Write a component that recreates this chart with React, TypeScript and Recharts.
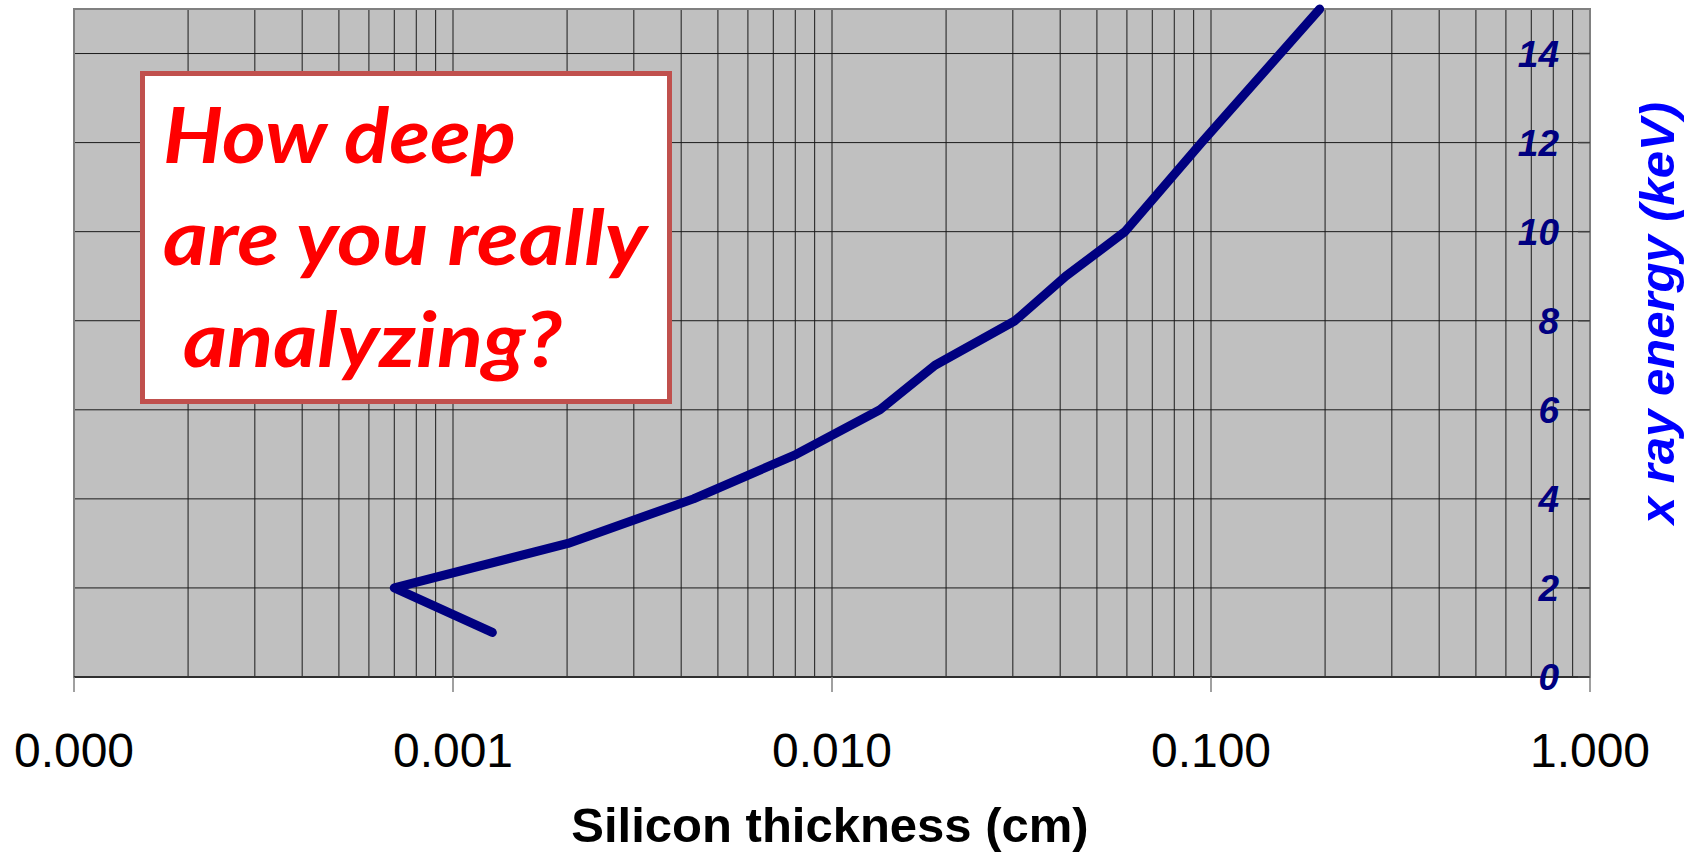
import React from 'react';
import { LineChart, Line, XAxis, YAxis, CartesianGrid, ReferenceArea, Label } from 'recharts';

// X-ray energy (keV) vs silicon thickness (cm)
const energyKeV = [1, 2, 3, 4, 5, 6, 7, 8, 9, 10, 12, 15];
const thicknessCm = [0.00127, 0.0007, 0.00201, 0.00431, 0.00805, 0.01338, 0.0187, 0.0304, 0.0414, 0.0593, 0.0944, 0.1936];

const majorTicks = [0.0001, 0.001, 0.01, 0.1, 1];
const multipliers = [1, 2, 3, 4, 5, 6, 7, 8, 9];
const yTicks = [0, 2, 4, 6, 8, 10, 12, 14];
const annotationLines = ['How deep', 'are you really', 'analyzing?'];

const data = energyKeV.map((e, i) => ({ thickness: thicknessCm[i], energy: e }));
const allXTicks: number[] = [];
majorTicks.slice(0, -1).forEach((d) => multipliers.forEach((m) => allXTicks.push(+(d * m).toPrecision(3))));
allXTicks.push(1);

const FONT = '"Liberation Sans", Arial, sans-serif';
const isMajor = (v: number) => majorTicks.some((m) => Math.abs(m - v) / m < 1e-6);

const XTick = (p: any) => {
  const v = p.payload.value;
  if (!isMajor(v)) return <g />;
  return (
    <g>
      <line x1={p.x} x2={p.x} y1={p.y} y2={p.y + 15} stroke="#808080" strokeWidth={1.5} />
      <text x={p.x} y={p.y + 90} textAnchor="middle" fontFamily={FONT} fontSize={48} fill="#000">
        {v.toFixed(3)}
      </text>
    </g>
  );
};

const YTick = (p: any) => (
  <g>
    <line x1={p.x - 12} x2={p.x} y1={p.y} y2={p.y} stroke="#404040" strokeWidth={1.5} />
    <text
      x={p.x - 31}
      y={p.y + 13}
      textAnchor="end"
      fontFamily={FONT}
      fontSize={37}
      fontWeight="bold"
      fontStyle="italic"
      fill="#000080"
    >
      {p.payload.value}
    </text>
  </g>
);

const XTitle = (p: any) => {
  const vb = p.viewBox;
  return (
    <text x={vb.x + vb.width / 2 - 2} y={vb.y + 165} textAnchor="middle" fontFamily={FONT} fontSize={49} fontWeight="bold" fill="#000">
      Silicon thickness (cm)
    </text>
  );
};

const YTitle = (p: any) => {
  const vb = p.viewBox;
  const x = vb.x + 84;
  const y = vb.y + vb.height / 2 - 30;
  return (
    <text
      x={x}
      y={y}
      transform={`rotate(-90, ${x}, ${y})`}
      textAnchor="middle"
      fontFamily={FONT}
      fontSize={49}
      fontWeight="bold"
      fontStyle="italic"
      fill="#0000FF"
    >
      x ray energy (keV)
    </text>
  );
};

const lineX = [163, 163, 183];
const lineY = [163, 265, 367];
const lineW = [353, 484, 379];

export default function App() {
  return (
    <div style={{ position: 'absolute', left: 0, top: 0, width: 1687, height: 852, background: '#fff' }}>
      <LineChart width={1687} height={852} data={data} margin={{ top: 9, right: 0, bottom: 0, left: 74 }}>
        <CartesianGrid fill="#C0C0C0" stroke="#1a1a1a" strokeWidth={1} />
        <XAxis
          dataKey="thickness"
          type="number"
          scale="log"
          domain={[0.0001, 1]}
          ticks={allXTicks}
          interval={0}
          tick={<XTick />}
          tickLine={false}
          tickSize={0}
          tickMargin={0}
          height={175}
          axisLine={{ stroke: '#303030', strokeWidth: 2 }}
          allowDataOverflow
        >
          <Label content={<XTitle />} />
        </XAxis>
        <YAxis
          orientation="right"
          type="number"
          domain={[0, 15]}
          ticks={yTicks}
          interval={0}
          tick={<YTick />}
          tickLine={false}
          tickSize={0}
          tickMargin={0}
          width={97}
          axisLine={{ stroke: '#808080', strokeWidth: 2 }}
        >
          <Label content={<YTitle />} />
        </YAxis>
        <ReferenceArea x1={0.0001} x2={1} y1={0} y2={15} fill="none" stroke="#808080" strokeWidth={2} />
        <Line
          type="linear"
          dataKey="energy"
          stroke="#000080"
          strokeWidth={9}
          strokeLinecap="round"
          strokeLinejoin="round"
          dot={false}
          isAnimationActive={false}
        />
      </LineChart>
      <svg width={1687} height={852} style={{ position: 'absolute', left: 0, top: 0, pointerEvents: 'none' }}>
        <rect x={142.5} y={73.5} width={527} height={328} fill="#FFFFFF" stroke="#C0504D" strokeWidth={5} />
        {annotationLines.map((t, i) => (
          <text
            key={t}
            x={lineX[i]}
            y={lineY[i]}
            fontFamily='Lato, "Open Sans", sans-serif'
            fontSize={77}
            fontWeight="bold"
            fontStyle="italic"
            fill="#FF0000"
            textLength={lineW[i]}
            lengthAdjust="spacingAndGlyphs"
          >
            {t}
          </text>
        ))}
      </svg>
    </div>
  );
}
